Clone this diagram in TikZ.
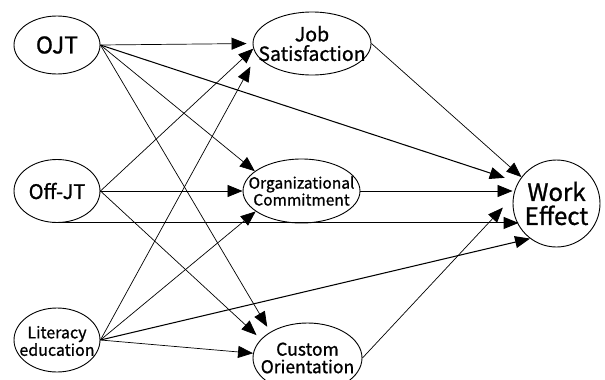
\documentclass[tikz,border=0pt]{standalone}
\usepackage{fontspec}
\newfontfamily\kr[FakeBold=1.0]{Noto Sans CJK KR}
\usetikzlibrary{shapes.geometric,arrows.meta}
\begin{document}
\begin{tikzpicture}[x=1pt,y=-1pt,
  ell/.style={draw, ellipse, inner sep=0pt, line width=0.9pt},
  lab/.style={align=center, inner sep=0pt, font=\kr\fontsize{#1}{#1}\selectfont},
  arr/.style={-{Triangle[length=15pt,width=12pt]}, line width=0.7pt},
  thk/.style={line width=1.05pt}]
\useasboundingbox (0,0) rectangle (605,380);
\node[ell, minimum width=86pt, minimum height=58pt, label={[lab=23]center:OJT}] (ojt) at (57,45) {};
\node[ell, minimum width=86pt, minimum height=63pt, label={[lab=20]center:Off-JT}] (off) at (57,191) {};
\node[ell, minimum width=86pt, minimum height=64pt, label={[lab=16,yshift=-1pt]center:Literacy\\education}] (lit) at (57,340) {};
\node[ell, minimum width=118pt, minimum height=63pt, label={[lab=19.5]center:Job\\Satisfaction}] (js) at (312,43.5) {};
\node[ell, minimum width=117pt, minimum height=64pt, label={[lab=15.5]center:Organizational\\Commitment}] (oc) at (301.5,191) {};
\node[ell, minimum width=109pt, minimum height=70pt, label={[lab=17.5]center:Custom\\Orientation}] (co) at (307.5,358) {};
\node[ell, minimum width=87pt, minimum height=87pt, label={[lab=24]center:Work\\Effect}] (we) at (556.5,203.5) {};
% from OJT
\draw[arr, shorten >=6pt] (ojt.east) -- (js.west);
\draw[arr] (ojt.east) -- (oc.157);
\draw[arr, shorten >=6pt] (ojt.east) -- (co.145);
\draw[arr, thk, shorten >=14pt] (ojt.east) -- (we.151);
% from Off-JT
\draw[arr] (off.east) -- (js.185);
\draw[arr] (off.east) -- (oc.west);
\draw[arr, shorten >=6pt] (off.east) -- (co.158);
\draw[arr, thk, shorten >=-6pt] (off.south) -- (off.south -| we.west);
% from Literacy education
\draw[arr, shorten >=13pt] (lit.east) -- (js.192);
\draw[arr] (lit.east) -- (oc.204);
\draw[arr] (lit.east) -- (co.175);
\draw[arr, thk] (lit.east) -- (we.233);
% to Work Effect
\draw[arr] (js.east) -- (we.143);
\draw[arr] (oc.east) -- (oc.east -| we.west);
\draw[arr, shorten >=15pt] (co.east) -- (we.171);
\end{tikzpicture}
\end{document}
